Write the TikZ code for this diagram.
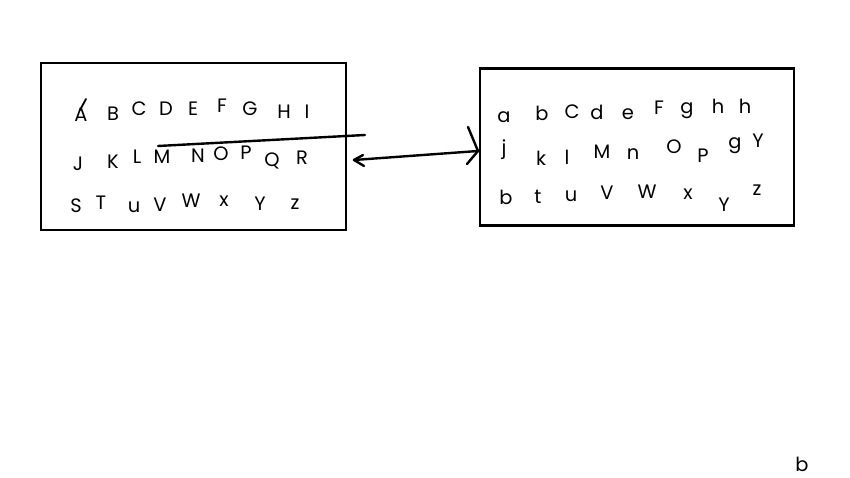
\documentclass[tikz,border=0pt]{standalone}
\usepackage{fontspec}
\setmainfont{Poppins}
\begin{document}
\begin{tikzpicture}[x=1bp,y=-1bp,
  ch/.style={inner sep=0pt,font=\fontsize{19.5}{21}\selectfont},
  frame/.style={draw=black,line width=2.8bp},
  pen/.style={draw=black,line width=2.4bp,line cap=round,line join=round}]
\useasboundingbox (0,0) rectangle (850,478);
% boxes
\node[frame,minimum width=305bp,minimum height=167bp,inner sep=0pt] (L) at (193.5,146.5) {};
\node[frame,minimum width=314bp,minimum height=157bp,inner sep=0pt] (R) at (637,147) {};
% left letters
\foreach \t/\x/\y [count=\i] in {A/81/115,B/113/114,C/139/109,D/166/109,E/193/109,F/222/106,G/250/109,H/284/112,I/307/112,
  J/78/164,K/113/162,L/137/157,M/162/157,N/198/156,O/221/154,P/246/153,Q/272/161,R/302/158,
  S/76/206,T/101/203,u/134/207,V/160/205,W/191/201,x/224/201,Y/260/204,z/295/204}
  \node[ch] (l\i) at (\x,\y) {\t};
% right letters
\foreach \t/\x/\y [count=\i] in {a/504/117,b/542/113,C/572/112,d/597/112,e/628/114,F/659/108,g/687/111,h/718/106,h/745/106,
  j/504/150,k/541/158,l/567/157,M/602/152,n/633/154,O/674/147,P/703/156,g/735/146,Y/758/141,
  b/506/197,t/538/197,u/571/196,V/607/193,W/647/192,x/688/194,Y/724/205,z/757/190}
  \node[ch] (r\i) at (\x,\y) {\t};
% stroke over A
\coordinate (s1) at (80,110);
\coordinate (s2) at (86,99);
\draw[pen,line width=1.8bp] (s1) -- (s2);
% line across left box
\coordinate (m1) at (158,146);
\coordinate (m2) at (365,135);
\draw[pen] (m1) -- (m2);
% double arrow
\coordinate (a1) at (354,160);
\coordinate (a2) at (478,151);
\draw[pen] (a1) -- (a2);
\draw[pen] (363,155) -- (a1) -- (364,166);
\draw[pen] (468,127) -- (a2) -- (467,164);
% corner label
\node[ch] (bl) at (802,464) {b};
\end{tikzpicture}
\end{document}
